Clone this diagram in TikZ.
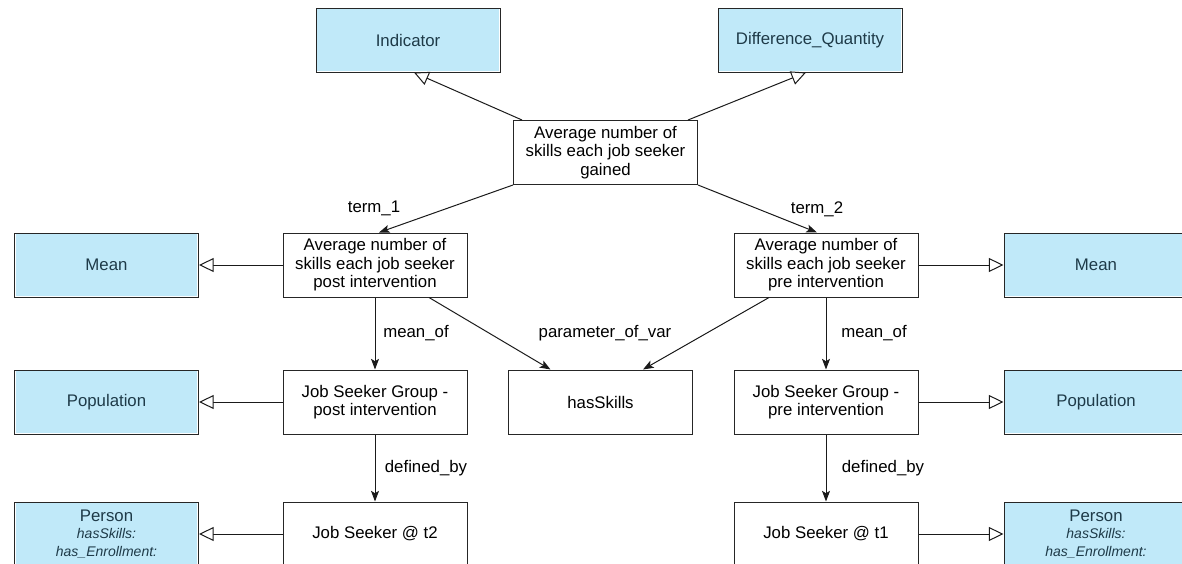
\documentclass[tikz,border=0pt]{standalone}
\usepackage{fontspec}
\setmainfont{Liberation Sans}
\usetikzlibrary{arrows.meta,calc}

\definecolor{clsfill}{HTML}{C0E9F9}
\definecolor{clstext}{HTML}{1E3A48}
\definecolor{edgecol}{HTML}{1A1A1A}

\tikzset{
  box/.style={draw=black!85, line width=0.75pt, fill=white,
    minimum width=138pt, minimum height=48pt, align=center, inner sep=0pt,
    font=\fontsize{12.6}{13.9}\selectfont},
  cls/.style={box, text=clstext,
    path picture={\fill[clsfill]
      ([shift={(1.1pt,-1.1pt)}]path picture bounding box.north west) rectangle
      ([shift={(-1.1pt,1.1pt)}]path picture bounding box.south east);}},
  rel/.style={draw=edgecol, line width=0.75pt,
    -{Stealth[length=8pt,width=6pt,inset=1.8pt]}},
  isa/.style={draw=edgecol, line width=0.75pt,
    -{Triangle[open,fill=white,length=11pt,width=10.5pt]}},
  lbl/.style={font=\fontsize{12.6}{13.7}\selectfont, inner sep=0pt},
}

\begin{document}
\begin{tikzpicture}[x=0.75pt,y=-0.75pt]
\useasboundingbox (0,0) rectangle (1182,564);

% class boxes (blue)
\node[cls] (ind)   at (408,40)   {Indicator};
\node[cls] (diff)  at (810,40)   {Difference\_Quantity};
\node[cls] (meanL) at (106.5,265) {Mean};
\node[cls] (meanR) at (1096,265) {Mean};
\node[cls] (popL)  at (106.5,402) {Population};
\node[cls] (popR)  at (1096,402) {Population};
\node[cls] (perL)  at (106.5,534) {Person\\[-1pt]{\fontsize{10.5}{13.5}\selectfont\itshape hasSkills:}\\[-0.5pt]{\fontsize{10.5}{13.5}\selectfont\itshape has\_Enrollment:}};
\node[cls] (perR)  at (1096,534) {Person\\[-1pt]{\fontsize{10.5}{13.5}\selectfont\itshape hasSkills:}\\[-0.5pt]{\fontsize{10.5}{13.5}\selectfont\itshape has\_Enrollment:}};

% instance boxes (white)
\node[box] (gain) at (605.5,152.5) {Average number of\\skills each job seeker\\gained};
\node[box] (post) at (375,265) {Average number of\\skills each job seeker\\post intervention};
\node[box] (pre)  at (826,265) {Average number of\\skills each job seeker\\pre intervention};
\node[box] (jsgpost) at (375,402) {Job Seeker Group -\\post intervention};
\node[box] (has)     at (600.5,402) {hasSkills};
\node[box] (jsgpre)  at (826,402) {Job Seeker Group -\\pre intervention};
\node[box] (t2) at (375,534) {Job Seeker @ t2};
\node[box] (t1) at (826,534) {Job Seeker @ t1};

% generalisation links
\draw[isa] ($(gain.north west)+(9,0)$) -- ($(ind.south)+(6,0)$);
\draw[isa] ($(gain.north east)+(-10,0)$) -- ($(diff.south)+(-4,0)$);
\draw[isa] (post.west) -- (meanL.east);
\draw[isa] (pre.east) -- (meanR.west);
\draw[isa] (jsgpost.west) -- (popL.east);
\draw[isa] (jsgpre.east) -- (popR.west);
\draw[isa] (t2.west) -- (perL.east);
\draw[isa] (t1.east) -- (perR.west);

% relations
\draw[rel] (gain.south west) -- ($(post.north)+(4,0)$);
\draw[rel] (gain.south east) -- ($(pre.north)+(-9,0)$);
\draw[rel] (post.south) -- (jsgpost.north);
\draw[rel] (pre.south) -- (jsgpre.north);
\draw[rel] ($(post.south)+(54,0)$) -- ($(has.north)+(-50,0)$);
\draw[rel] ($(pre.south west)+(35.5,0)$) -- ($(has.north)+(42.5,0)$);
\draw[rel] (jsgpost.south) -- (t2.north);
\draw[rel] (jsgpre.south) -- (t1.north);

% relation labels
\node[lbl] (l1) at (374,208) {term\_1};
\node[lbl] (l2) at (817,209) {term\_2};
\node[lbl] (l3) at (416,333) {mean\_of};
\node[lbl] (l4) at (605,333) {parameter\_of\_var};
\node[lbl] (l5) at (874,333) {mean\_of};
\node[lbl] (l6) at (426,468) {defined\_by};
\node[lbl] (l7) at (883,468) {defined\_by};
\end{tikzpicture}
\end{document}
